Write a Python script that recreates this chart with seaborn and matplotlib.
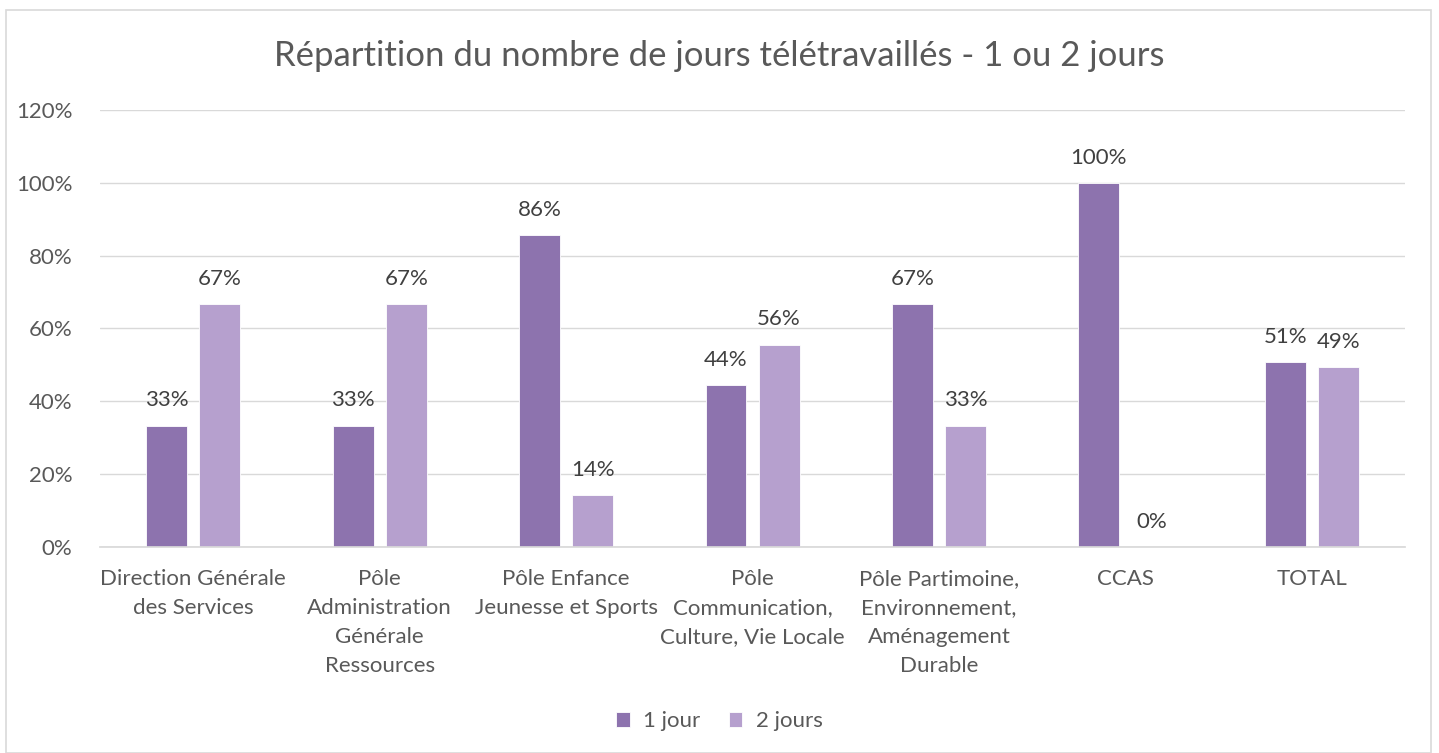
import matplotlib
matplotlib.use("Agg")
import matplotlib.pyplot as plt
import seaborn as sns
import pandas as pd
from matplotlib.patches import Rectangle
from matplotlib.ticker import FuncFormatter

categories = [
    "Direction Générale\ndes Services",
    "Pôle\nAdministration\nGénérale\nRessources",
    "Pôle Enfance\nJeunesse et Sports",
    "Pôle\nCommunication,\nCulture, Vie Locale",
    "Pôle Partimoine,\nEnvironnement,\nAménagement\nDurable",
    "CCAS",
    "TOTAL",
]
series_names = ["1 jour", "2 jours"]
values_1jour = [0.3333, 0.3333, 0.8571, 0.4444, 0.6667, 1.0, 0.5068]
values_2jours = [0.6667, 0.6667, 0.1429, 0.5556, 0.3333, 0.0, 0.4932]
labels_1jour = ["33%", "33%", "86%", "44%", "67%", "100%", "51%"]
labels_2jours = ["67%", "67%", "14%", "56%", "33%", "0%", "49%"]
colors = ["#8D73AE", "#B6A0CE"]

rows = []
for c, v in zip(categories, values_1jour):
    rows.append({"cat": c, "serie": series_names[0], "val": v})
for c, v in zip(categories, values_2jours):
    rows.append({"cat": c, "serie": series_names[1], "val": v})
df = pd.DataFrame(rows)

sns.set_theme(style="white")
plt.rcParams["font.family"] = ["Lato", "DejaVu Sans"]

fs = 16
fig = plt.figure(figsize=(14.39, 7.53), dpi=100)
ax = fig.add_axes([0.0695, 0.2736, 0.9069, 0.5803])

sns.barplot(data=df, x="cat", y="val", hue="serie", palette=colors,
            width=0.57, gap=0.23, ax=ax, order=categories,
            hue_order=series_names, edgecolor="white", linewidth=0.6,
            saturation=1)

for cont, labs in zip(ax.containers, [labels_1jour, labels_2jours]):
    ax.bar_label(cont, labels=labs, padding=11, fontsize=fs, color="#404040")

ax.set_ylim(0, 1.2)
ax.set_yticks([0, 0.2, 0.4, 0.6, 0.8, 1.0, 1.2])
ax.yaxis.set_major_formatter(FuncFormatter(lambda v, p: f"{v*100:.0f}%"))
ax.set_xlim(-0.5, len(categories) - 0.5)
ax.grid(axis="y", color="#D9D9D9", linewidth=1)
ax.set_axisbelow(True)
for s in ["top", "right", "left"]:
    ax.spines[s].set_visible(False)
ax.spines["bottom"].set_color("#D9D9D9")
ax.tick_params(axis="both", length=0, labelsize=fs, colors="#595959")
ax.tick_params(axis="x", pad=16)
ax.tick_params(axis="y", pad=20)
for t in ax.get_xticklabels():
    t.set_linespacing(1.55)
ax.set_xlabel("")
ax.set_ylabel("")

ax.legend(loc="center", bbox_to_anchor=(0.5, 0.042), bbox_transform=fig.transFigure,
          ncol=2, frameon=False, fontsize=fs, handlelength=0.6, handleheight=0.6,
          columnspacing=1.3, handletextpad=0.6, labelcolor="#595959")

fig.text(0.5, 0.925, "Répartition du nombre de jours télétravaillés - 1 ou 2 jours",
         ha="center", va="center", fontsize=25, color="#595959")

fig.patches.append(Rectangle((0.0045, 0.0), 0.99, 0.987, transform=fig.transFigure,
                             fill=False, edgecolor="#D9D9D9", linewidth=1.2))

fig.savefig("out.png", dpi=100)
